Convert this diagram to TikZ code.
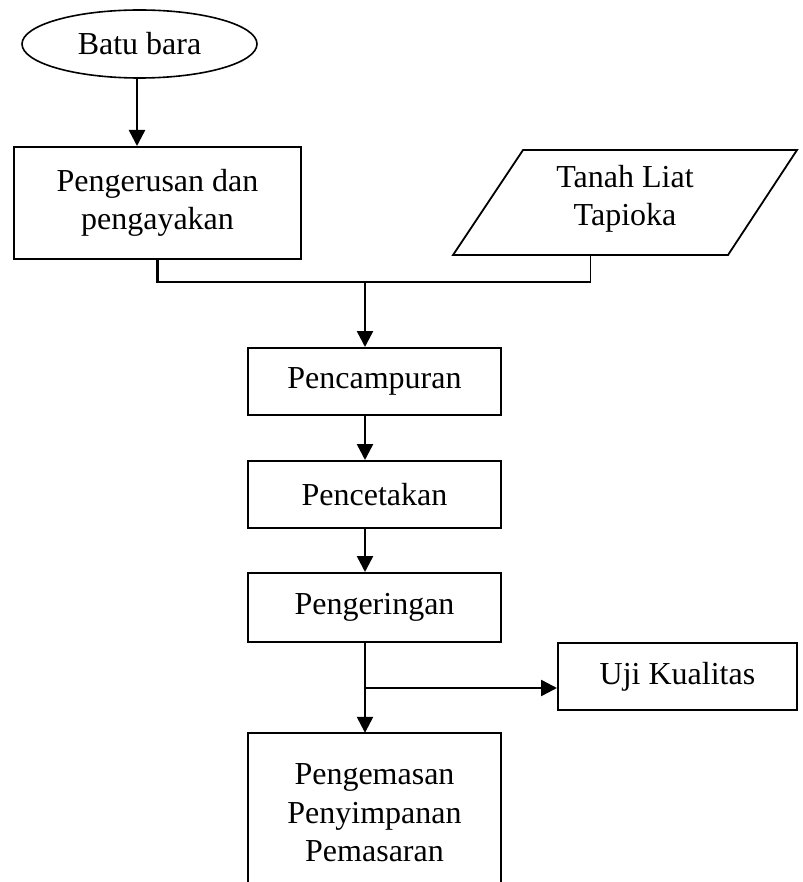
\documentclass[tikz,border=0pt]{standalone}
\usepackage{fontspec}
\setmainfont{Liberation Serif}
\usetikzlibrary{shapes.geometric,arrows.meta}

\begin{document}
\begin{tikzpicture}[x=1pt, y=-1pt,
    every node/.style={font=\fontsize{32}{38.5}\selectfont, align=center, inner sep=0pt},
    procbox/.style={draw, line width=2pt, minimum width=253pt, minimum height=67pt},
    arr/.style={line width=2.5pt, -{Triangle[length=16pt,width=16pt]}},
    conn/.style={line width=2.2pt}]
    \useasboundingbox (0,0) rectangle (802,882);
    % input
    \node[ellipse, draw, line width=1.6pt, minimum width=235pt, minimum height=68pt] (batu) at (139.5,44) {Batu bara};
    \node[procbox, minimum width=287pt, minimum height=112pt] (ker) at (157.5,203) {Pengerusan dan\\pengayakan};
    \draw[line width=1.8pt] (523,150) -- (797,150) -- (728,255) -- (453,255) -- cycle;
    \node (tanah) at (625,199) {Tanah Liat\\Tapioka};
    \coordinate (tanahbot) at (590.5,255);
    % process
    \node[procbox] (campur) at (374.5,381.5) {Pencampuran};
    \node[procbox] (cetak) at (374.5,494.5) {Pencetakan};
    \node[procbox, minimum height=69pt] (kering) at (374.5,607.5) {Pengeringan};
    \node[procbox, minimum width=239pt] (uji) at (677.5,676.5) {Uji Kualitas};
    \node[minimum width=253pt, minimum height=160pt] (kemas) at (374.5,813) {Pengemasan\\Penyimpanan\\Pemasaran};
    \draw[line width=2pt] (kemas.south west) -- (kemas.north west) -- (kemas.north east) -- (kemas.south east);
    % arrows
    \coordinate (join) at (365,282);
    \coordinate (branch) at (365,688);
    \draw[arr] (batu.south -| 137,0) -- (ker.north -| 137,0);
    \draw[conn] (ker.south) |- (join) -- (join -| tanahbot);
    \draw[line width=1.2pt] (tanahbot) -- (tanahbot |- join);
    \draw[arr] (join) -- (join |- campur.north);
    \draw[arr] (campur.south -| join) -- (cetak.north -| join);
    \draw[arr] (cetak.south -| join) -- (kering.north -| join);
    \draw[arr] (kering.south -| join) -- (kemas.north -| join);
    \draw[arr] (branch) -- (branch -| uji.west);
\end{tikzpicture}
\end{document}
